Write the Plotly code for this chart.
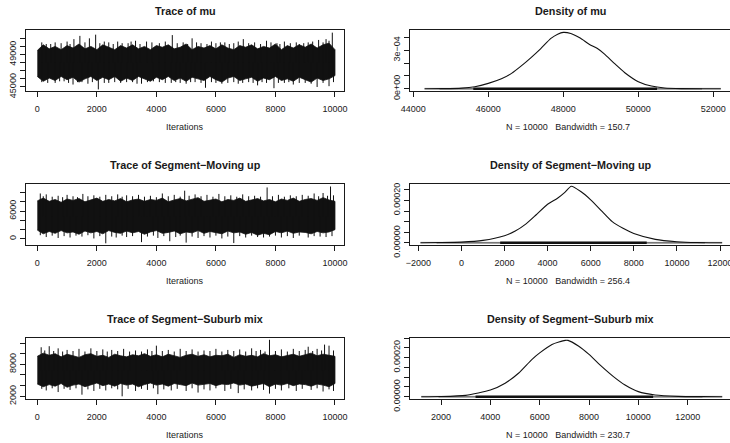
import plotly.graph_objects as go
import numpy as np

# ---------------- data ----------------
iters = list(range(0, 10001, 200))

# Trace of mu: ragged core band edges every 200 iterations
mu_hi = [49500, 50200, 49700, 50000, 49600, 50100, 49800, 50300, 49700, 50000, 49600, 50200,
         49900, 49600, 50100, 49800, 50200, 49700, 50000, 49600, 50100, 49900, 50200, 49700,
         49900, 50300, 49600, 50000, 49800, 50100, 49700, 50200, 49800, 49600, 50100, 49900,
         50200, 49700, 50000, 49800, 50300, 49600, 50100, 49800, 50200, 49900, 50300, 49800,
         50200, 50400, 49600]
mu_lo = [46300, 45700, 46100, 45800, 46300, 45900, 46200, 45600, 46000, 46300, 45800, 46200,
         45900, 46300, 45700, 46100, 45800, 46300, 46000, 45700, 46200, 45900, 46300, 45800,
         46100, 45700, 46200, 46000, 45800, 46300, 45900, 45600, 46100, 46300, 45800, 46000,
         46200, 45700, 46100, 45900, 46300, 45800, 46000, 45700, 46200, 45900, 45600, 46100,
         45800, 46000, 46400]
mu_up_it = [150, 300, 450, 600, 800, 1000, 1100, 1230, 1430, 1600, 1750, 1960, 2100, 2250,
            2400, 2550, 2700, 2850, 3050, 3150, 3300, 3450, 3670, 3850, 4100, 4300, 4535, 4700,
            4900, 5050, 5200, 5350, 5500, 5700, 5850, 6000, 6150, 6300, 6450, 6600, 6750, 6920,
            7100, 7300, 7500, 7700, 7850, 8050, 8150, 8300, 8500, 8700, 8800, 8950, 9100, 9250,
            9450, 9600, 9700, 9800, 9910]
mu_up_val = [50500, 50300, 50300, 50500, 50400, 50600, 50300, 50900, 51300, 50500, 51000,
             51450, 50400, 50600, 50500, 50300, 50600, 50400, 50400, 50600, 50700, 50300,
             50600, 50500, 50400, 50600, 51400, 50400, 50500, 50300, 51000, 50500, 50400,
             50300, 50600, 50400, 50500, 50500, 50300, 50400, 50600, 50900, 50400, 50500,
             50300, 50700, 50500, 50400, 50300, 50600, 50400, 50500, 50300, 50400, 50500,
             50600, 50800, 50500, 50900, 50700, 51700]
mu_dn_it = [150, 350, 600, 750, 900, 1050, 1200, 1350, 1500, 1700, 1850, 2050, 2250, 2400,
            2600, 2800, 3000, 3200, 3350, 3500, 3700, 3900, 4100, 4300, 4500, 4650, 4800, 5000,
            5150, 5300, 5500, 5650, 5850, 6000, 6200, 6400, 6600, 6750, 6900, 7100, 7250, 7400,
            7550, 7700, 7950, 8100, 8300, 8450, 8600, 8800, 9000, 9200, 9400, 9600, 9800, 9950]
mu_dn_val = [45600, 45500, 45500, 45700, 45700, 45500, 45300, 45600, 45600, 45400, 45600,
             44700, 45500, 45500, 45600, 45500, 45600, 45600, 45400, 45400, 45600, 45700,
             45600, 45500, 45500, 45600, 45500, 45400, 45600, 45600, 45500, 44900, 45600,
             45500, 45400, 45500, 45600, 45400, 45500, 45600, 45500, 45200, 45600, 45500,
             44850, 45500, 45500, 45600, 45300, 45500, 45500, 45400, 45000, 45500, 45100, 45600]

# Trace of Segment-Moving up
mv_hi = [8200, 8800, 8100, 8500, 7900, 8600, 8300, 8700, 8000, 8400, 8800, 8100, 8500, 8200,
         8700, 8000, 8400, 8600, 8100, 8500, 8300, 8800, 8000, 8400, 8700, 8200, 8500, 8900,
         8100, 8400, 8600, 8000, 8500, 8300, 8800, 8100, 8400, 8700, 8200, 8500, 8000, 8600,
         8300, 8800, 8100, 8500, 8700, 8300, 8900, 8400, 8100]
mv_lo = [1900, 1100, 1600, 1200, 1800, 1300, 1500, 1000, 1700, 1300, 1600, 1100, 1800, 1400,
         1200, 1700, 1300, 1600, 1000, 1500, 1800, 1200, 1400, 1700, 1100, 1500, 1300, 1800,
         1200, 1600, 1400, 1100, 1700, 1300, 1500, 1000, 1400, 800, 1200, 900, 1600, 1300,
         1700, 1200, 1500, 1400, 1100, 1600, 1300, 1500, 2000]
mv_up_it = [100, 200, 300, 500, 700, 850, 1000, 1200, 1350, 1530, 1700, 1900, 2100, 2300, 2500,
            2700, 2850, 3000, 3200, 3400, 3600, 3800, 4000, 4200, 4400, 4600, 4800, 4950, 5100,
            5300, 5500, 5700, 5900, 6100, 6300, 6500, 6700, 6900, 7100, 7300, 7500, 7720, 7900,
            8100, 8300, 8500, 8700, 8900, 9100, 9300, 9450, 9600, 9750, 9850, 9950]
mv_up_val = [9800, 9200, 9600, 9100, 9300, 9000, 9500, 9200, 9000, 9700, 9200, 9400, 9100,
             9500, 9200, 9600, 9100, 9400, 9200, 9500, 9100, 9300, 9000, 9800, 9200, 9500,
             9100, 10400, 9300, 9600, 9200, 9500, 9100, 9700, 9200, 9400, 9100, 9600, 9200,
             9300, 9100, 11100, 9200, 9500, 9100, 9400, 9200, 9500, 9300, 9800, 9200, 9900,
             9300, 11300, 9400]
mv_dn_it = [100, 300, 500, 700, 900, 1100, 1300, 1500, 1700, 1900, 2100, 2300, 2500, 2650, 2850,
            3000, 3200, 3500, 3700, 3900, 4050, 4250, 4450, 4650, 4800, 5000, 5200, 5400, 5600,
            5800, 6000, 6200, 6400, 6600, 6800, 7000, 7200, 7400, 7600, 7800, 8000, 8200, 8400,
            8600, 8800, 9100, 9300, 9500, 9700, 9900]
mv_dn_val = [800, 400, 700, 200, 600, 300, 700, 500, 800, 100, 600, -950, 500, 300, 700, 400,
             600, -700, 500, 700, 200, 600, -500, 400, 700, -800, 500, 200, 600, 300, 700, 100,
             500, -900, 600, 300, 700, 400, 300, 500, 700, 300, 600, 200, 700, 300, 600, 500,
             400, 600]

# Trace of Segment-Suburb mix
sb_hi = [9500, 10100, 9700, 10000, 9400, 9900, 9600, 9300, 9800, 10000, 9500, 9700, 9300, 9900,
         9600, 9400, 9800, 9600, 10000, 9500, 9800, 9400, 9900, 9600, 9300, 9700, 9900, 9500,
         9800, 9400, 9700, 9600, 9900, 9300, 9800, 9500, 9700, 9400, 10000, 9600, 9800, 9400,
         9700, 9900, 9500, 9800, 10100, 9600, 9900, 9700, 9500]
sb_lo = [4300, 3800, 4200, 3900, 4400, 3700, 4100, 4300, 3800, 4200, 4500, 4000, 4300, 3900,
         4400, 4100, 4300, 3800, 4200, 4500, 4100, 4300, 3900, 4400, 4200, 4000, 4500, 4100,
         4300, 4400, 4000, 4300, 4200, 4500, 4100, 4300, 3900, 4200, 4400, 3800, 4300, 4100,
         4400, 4000, 4300, 4200, 3900, 4300, 4100, 3800, 4400]
sb_up_it = [130, 250, 400, 550, 700, 850, 1000, 1200, 1400, 1600, 1800, 2000, 2200, 2350, 2500,
            2700, 2900, 3100, 3300, 3500, 3700, 3850, 4000, 4200, 4400, 4600, 4800, 5000, 5200,
            5400, 5600, 5800, 6000, 6200, 6400, 6600, 6800, 7000, 7200, 7350, 7500, 7650, 7800,
            8000, 8200, 8400, 8600, 8800, 9000, 9100, 9250, 9400, 9550, 9650, 9800, 9950]
sb_up_val = [11200, 10600, 11400, 10500, 11000, 10400, 10700, 10500, 10900, 10400, 11000,
             10500, 10800, 10400, 10700, 10500, 10900, 10400, 10600, 10400, 10800, 10500,
             11500, 10500, 10700, 10400, 10900, 10500, 10800, 10400, 10600, 10500, 10900,
             10400, 10700, 10500, 10800, 10400, 11000, 10500, 10700, 10400, 12600, 10500,
             10800, 10400, 10900, 10500, 10700, 11300, 10500, 10900, 10600, 11700, 11500, 10600]
sb_dn_it = [150, 300, 500, 700, 900, 1100, 1300, 1500, 1700, 1900, 2100, 2300, 2500, 2700, 2850,
            3050, 3300, 3500, 3700, 3900, 4050, 4250, 4500, 4700, 5000, 5200, 5400, 5600, 5800,
            6000, 6300, 6500, 6750, 6950, 7200, 7400, 7600, 7800, 8000, 8200, 8450, 8700, 8900,
            9200, 9400, 9600, 9800, 9950]
sb_dn_val = [3400, 3100, 3500, 2800, 3400, 3200, 3500, 2300, 3300, 3000, 3400, 3100, 3500, 3300,
             2000, 3400, 3000, 3400, 3200, 3500, 2400, 3300, 3100, 3400, 3000, 3500, 2700, 3300,
             3100, 3500, 3000, 3400, 2600, 3300, 3100, 3500, 3200, 2500, 3400, 3100, 3500, 3000,
             3400, 3200, 3500, 2900, 3300, 3000]

# Density curves
dmu_x = [44300, 44800, 45290, 45640, 46000, 46350, 46620, 46880, 47140, 47400, 47670, 47850,
         48000, 48200, 48450, 48700, 48900, 49100, 49370, 49640, 50000, 50350, 50700, 51150,
         51700, 52200]
dmu_y = [0, 0.01e-4, 0.05e-4, 0.16e-4, 0.42e-4, 0.78e-4, 1.2e-4, 1.78e-4, 2.43e-4, 3.13e-4,
         3.92e-4, 4.25e-4, 4.39e-4, 4.30e-4, 3.95e-4, 3.45e-4, 3.15e-4, 2.7e-4, 1.95e-4,
         1.25e-4, 0.55e-4, 0.21e-4, 0.06e-4, 0.01e-4, 0, 0]
dmv_x = [-1900, -1000, 0, 1000, 2000, 2500, 3000, 3460, 4000, 4460, 4800, 5100, 5540, 6000,
         6540, 7000, 7500, 8000, 9000, 10000, 10920, 12100]
dmv_y = [0, 0.1e-5, 0.3e-5, 1.1e-5, 3.3e-5, 5.5e-5, 8.9e-5, 13.1e-5, 18.2e-5, 21.0e-5,
         23.8e-5, 26.7e-5, 24.2e-5, 20.3e-5, 14.7e-5, 10.0e-5, 6.8e-5, 4.4e-5, 1.6e-5,
         0.5e-5, 0.1e-5, 0]
dsb_x = [1200, 2000, 3000, 4000, 4600, 5140, 5680, 6000, 6500, 7030, 7150, 7570, 8000, 8510,
         8990, 9460, 10000, 10680, 11620, 12600, 13400]
dsb_y = [0, 0.1e-5, 0.7e-5, 3.4e-5, 6.9e-5, 12.0e-5, 19.0e-5, 22.4e-5, 26.7e-5, 28.8e-5,
         28.8e-5, 25.9e-5, 21.6e-5, 15.5e-5, 10.3e-5, 6.0e-5, 2.6e-5, 0.9e-5, 0.2e-5,
         0.05e-5, 0]

# Observation rugs: [min, dense-start, dense-end, max]
mu_rug = [44700, 45600, 50500, 51700]
mv_rug = [-1150, 1800, 8600, 11300]
sb_rug = [1900, 3400, 10600, 12600]

trace_titles = ["Trace of mu", "Trace of Segment\u2212Moving up", "Trace of Segment\u2212Suburb mix"]
dens_titles = ["Density of mu", "Density of Segment\u2212Moving up", "Density of Segment\u2212Suburb mix"]
dens_xlabs = ["N = 10000\u00a0\u00a0 Bandwidth = 150.7", "N = 10000\u00a0\u00a0 Bandwidth = 256.4",
              "N = 10000\u00a0\u00a0 Bandwidth = 230.7"]

trace_xticks = [0, 2000, 4000, 6000, 8000, 10000]
trace_xtext = ["0", "2000", "4000", "6000", "8000", "10000"]
trace_yticks = [[45000, 46000, 47000, 48000, 49000, 50000, 51000],
                [0, 2000, 4000, 6000, 8000, 10000],
                [2000, 4000, 6000, 8000, 10000, 12000]]
trace_ytext = [["45000", "", "", "", "49000", "", ""],
               ["0", "", "", "6000", "", ""],
               ["2000", "", "", "8000", "", ""]]
dens_yticks = [[0, 1e-4, 2e-4, 3e-4, 4e-4],
               [0, 5e-5, 1e-4, 1.5e-4, 2e-4, 2.5e-4],
               [0, 5e-5, 1e-4, 1.5e-4, 2e-4, 2.5e-4, 3e-4]]
dens_ytext = [["0e+00", "", "", "3e\u221204", ""],
              ["0.00000", "", "", "", "0.00020", ""],
              ["0.00000", "", "", "", "0.00020", "", ""]]
dens_xticks = [[44000, 46000, 48000, 50000, 52000],
               [-2000, 0, 2000, 4000, 6000, 8000, 10000, 12000],
               [2000, 4000, 6000, 8000, 10000, 12000]]
dens_xtext = [["44000", "46000", "48000", "50000", "52000"],
              ["\u22122000", "0", "2000", "4000", "6000", "8000", "10000", "12000"],
              ["2000", "4000", "6000", "8000", "10000", "12000"]]

# axis ranges (R style, data range extended by 4 %)
trace_xrange = [-380, 10303]
trace_yrange = [[44504, 52026], [-1316, 11842], [1494, 12938]]
dens_xrange = [[43912, 52445], [-2385, 12464], [743, 13715]]
dens_yrange = [[-1.76e-5, 4.576e-4], [-1.07e-5, 2.777e-4], [-1.16e-5, 3.0e-4]]

# ---------------- figure ----------------
W, H = 730, 443
FONT = "Liberation Sans, Arial, Helvetica, sans-serif"
INK = "#1a1a1a"
fig = go.Figure()


def py(p):
    return 1 - p / H


ROW_STEP = 154
BOX_TOP, BOX_BOT = 30, 91
LEFT = (26, 344)
RIGHT = (410, 730)

traces_data = [
    (mu_hi, mu_lo, mu_up_it, mu_up_val, mu_dn_it, mu_dn_val),
    (mv_hi, mv_lo, mv_up_it, mv_up_val, mv_dn_it, mv_dn_val),
    (sb_hi, sb_lo, sb_up_it, sb_up_val, sb_dn_it, sb_dn_val),
]
dens_data = [(dmu_x, dmu_y, mu_rug), (dmv_x, dmv_y, mv_rug), (dsb_x, dsb_y, sb_rug)]

annotations = []
for r in range(3):
    top = BOX_TOP + r * ROW_STEP
    bot = BOX_BOT + r * ROW_STEP
    ydom = [py(bot), py(top)]
    ia = 2 * r + 1
    ib = 2 * r + 2
    xa, ya = f"x{ia}", f"y{ia}"
    xb, yb = f"x{ib}", f"y{ib}"

    hi, lo, uit, uval, dit, dval = traces_data[r]
    # core band of the trace
    fig.add_trace(go.Scatter(x=iters + iters[::-1], y=hi + lo[::-1], fill="toself",
                             fillcolor="#111111", mode="lines",
                             line=dict(color="#111111", width=0.8),
                             xaxis=xa, yaxis=ya, hoverinfo="skip", showlegend=False))
    mid = (np.mean(hi) + np.mean(lo)) / 2
    sx, sy = [], []
    for it, v in zip(uit, uval):
        sx += [it, it, None]
        sy += [mid, v, None]
    for it, v in zip(dit, dval):
        sx += [it, it, None]
        sy += [mid, v, None]
    fig.add_trace(go.Scatter(x=sx, y=sy, mode="lines", line=dict(color="#111111", width=1),
                             xaxis=xa, yaxis=ya, hoverinfo="skip", showlegend=False))

    dx, dy, rug = dens_data[r]
    fig.add_trace(go.Scatter(x=[dx[0], dx[-1]], y=[0, 0], mode="lines",
                             line=dict(color="#c8c8c8", width=2),
                             xaxis=xb, yaxis=yb, hoverinfo="skip", showlegend=False))
    fig.add_trace(go.Scatter(x=[rug[0], rug[3]], y=[0, 0], mode="lines",
                             line=dict(color="#777777", width=1.5),
                             xaxis=xb, yaxis=yb, hoverinfo="skip", showlegend=False))
    fig.add_trace(go.Scatter(x=[rug[1], rug[2]], y=[0, 0], mode="lines",
                             line=dict(color="#111111", width=2.5),
                             xaxis=xb, yaxis=yb, hoverinfo="skip", showlegend=False))
    fig.add_trace(go.Scatter(x=dx, y=dy, mode="lines",
                             line=dict(color="#111111", width=1.1, shape="spline", smoothing=0.6),
                             xaxis=xb, yaxis=yb, hoverinfo="skip", showlegend=False))

    common = dict(showgrid=False, zeroline=False, showline=True, linecolor=INK, linewidth=1,
                  ticks="outside", ticklen=5, tickwidth=1, tickcolor=INK, automargin=False,
                  ticklabeloverflow="allow",
                  tickfont=dict(family=FONT, size=9, color=INK))
    xkey = "xaxis" if ia == 1 else f"xaxis{ia}"
    ykey = "yaxis" if ia == 1 else f"yaxis{ia}"
    fig.layout[xkey] = dict(domain=[LEFT[0] / W, LEFT[1] / W], anchor=ya, range=trace_xrange,
                            tickvals=trace_xticks, ticktext=trace_xtext, mirror=True,
                            ticklabelstandoff=4, **common)
    fig.layout[ykey] = dict(domain=ydom, anchor=xa, range=trace_yrange[r],
                            tickvals=trace_yticks[r], ticktext=trace_ytext[r],
                            tickangle=-90, mirror=True, **common)
    fig.layout[f"xaxis{ib}"] = dict(domain=[RIGHT[0] / W, RIGHT[1] / W], anchor=yb,
                                    range=dens_xrange[r], tickvals=dens_xticks[r],
                                    ticktext=dens_xtext[r], mirror=True,
                                    ticklabelstandoff=4, **common)
    fig.layout[f"yaxis{ib}"] = dict(domain=ydom, anchor=xb, range=dens_yrange[r],
                                    tickvals=dens_yticks[r], ticktext=dens_ytext[r],
                                    tickangle=-90, mirror=False, **common)

    title_y = py(10.7 + r * ROW_STEP)
    xlab_y = py(126.7 + r * ROW_STEP)
    annotations.append(dict(text=f"<b>{trace_titles[r]}</b>", x=185 / W, y=title_y, xref="paper",
                            yref="paper", showarrow=False, xanchor="center", yanchor="middle",
                            font=dict(family=FONT, size=10.8, color=INK)))
    annotations.append(dict(text=f"<b>{dens_titles[r]}</b>", x=570 / W, y=title_y, xref="paper",
                            yref="paper", showarrow=False, xanchor="center", yanchor="middle",
                            font=dict(family=FONT, size=10.8, color=INK)))
    annotations.append(dict(text="Iterations", x=185 / W, y=xlab_y, xref="paper", yref="paper",
                            showarrow=False, xanchor="center", yanchor="middle",
                            font=dict(family=FONT, size=9, color=INK)))
    annotations.append(dict(text=dens_xlabs[r], x=568 / W, y=xlab_y, xref="paper", yref="paper",
                            showarrow=False, xanchor="center", yanchor="middle",
                            font=dict(family=FONT, size=9, color=INK)))

fig.update_layout(width=W, height=H, margin=dict(l=0, r=0, t=0, b=0),
                  paper_bgcolor="white", plot_bgcolor="white", showlegend=False,
                  annotations=annotations)

fig.write_html("out.html", config={"displayModeBar": False},
               post_script="document.body.style.margin='0';document.body.style.overflow='hidden';")
